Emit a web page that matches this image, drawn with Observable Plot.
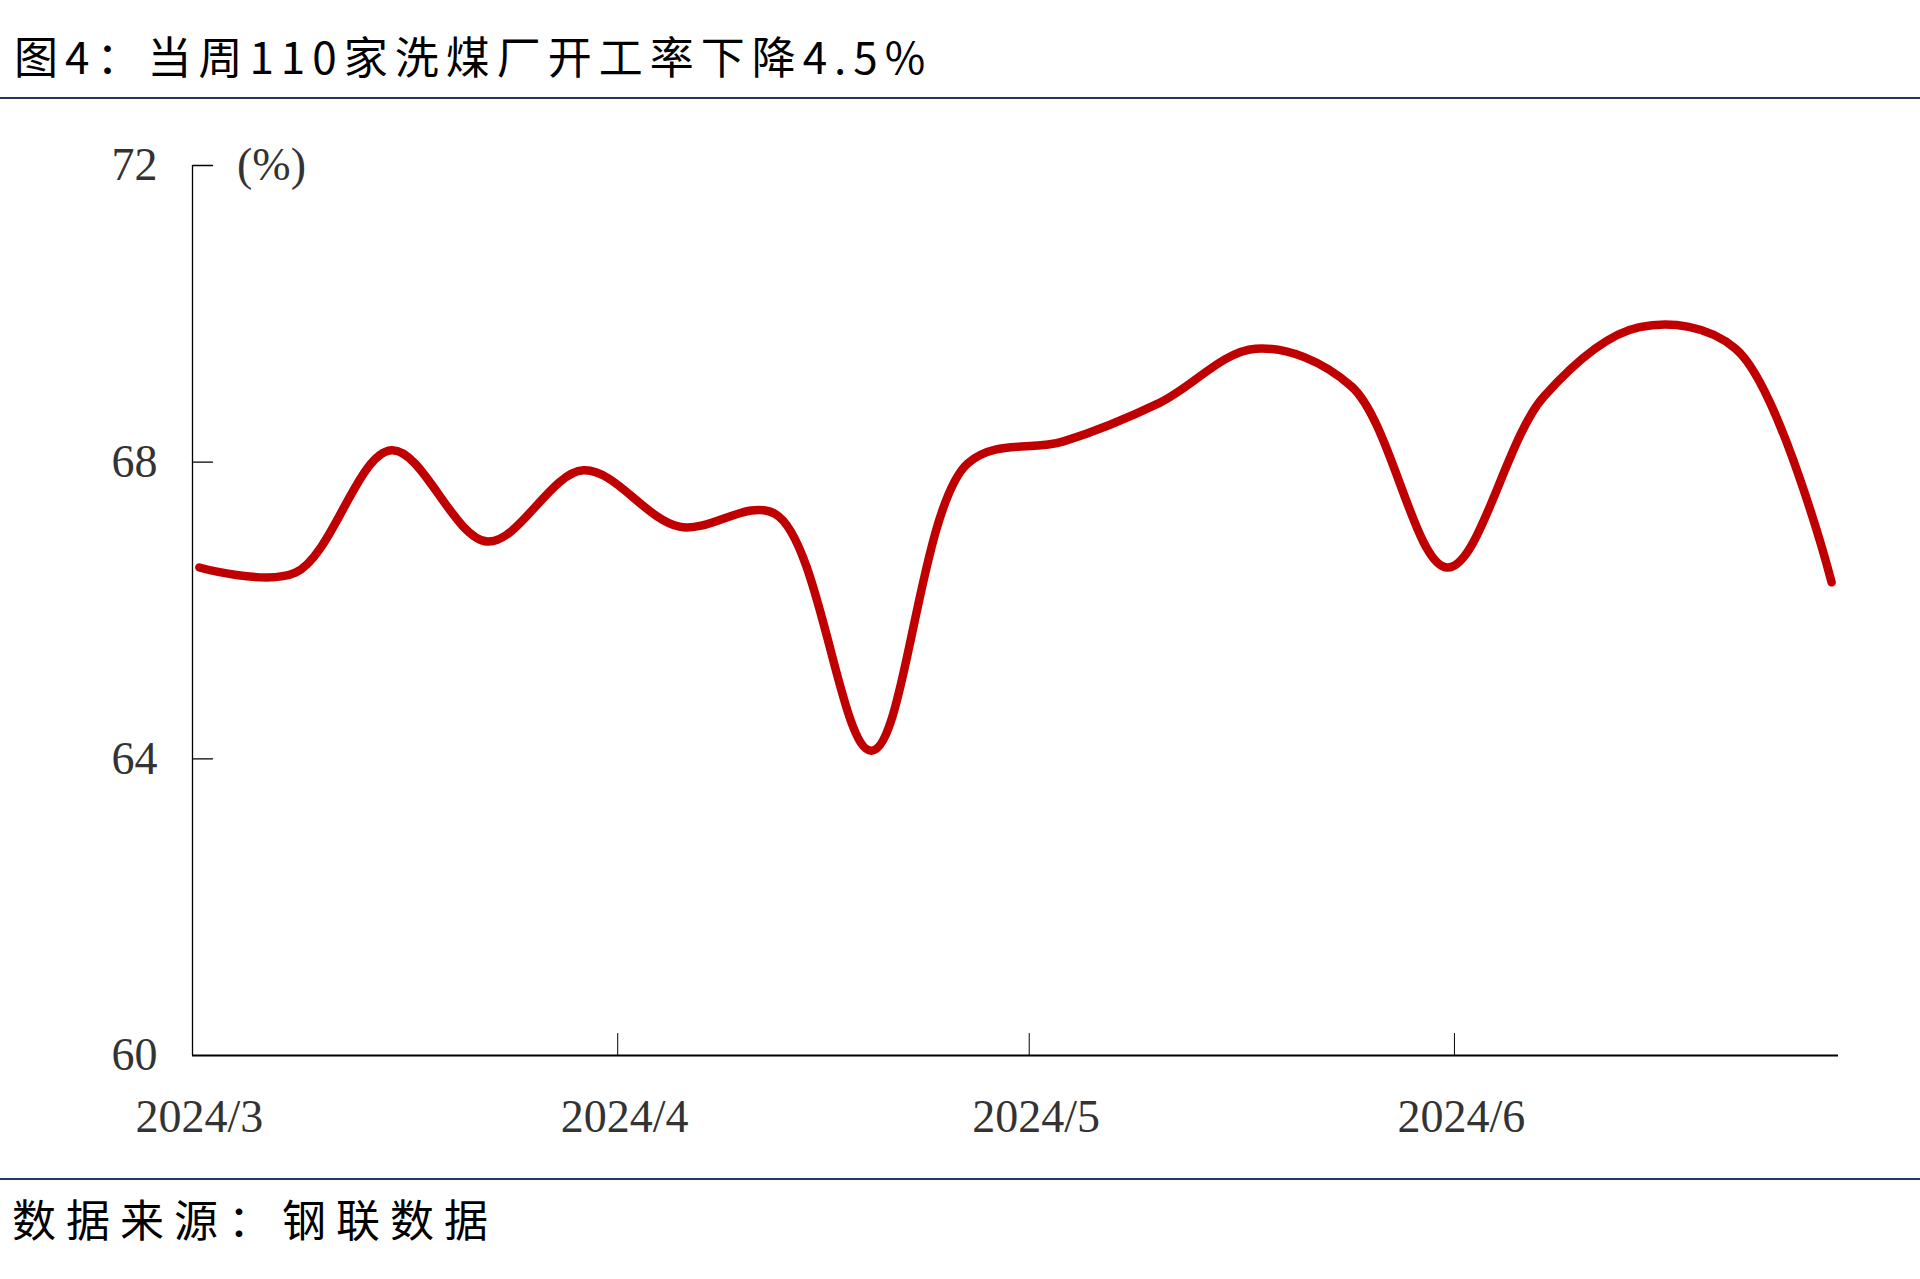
<!DOCTYPE html>
<html><head><meta charset="utf-8">
<script src="https://cdn.jsdelivr.net/npm/d3@7"></script>
<script src="https://cdn.jsdelivr.net/npm/@observablehq/plot@0.6"></script>
<style>
body{margin:0;background:#fff;}
#page{position:relative;width:1920px;height:1279px;overflow:hidden;background:#fff;}
#title{position:absolute;left:14px;top:24px;font-family:"Noto Sans CJK SC";font-size:44px;line-height:62px;letter-spacing:7px;color:#000;white-space:nowrap;}
.rule{position:absolute;left:0;width:1920px;height:2px;background:#1F3864;}
#chart{position:absolute;left:0;top:99px;}
#source{position:absolute;left:12px;top:1188px;font-family:"Noto Sans CJK SC";font-size:44px;line-height:60px;letter-spacing:10px;color:#000;white-space:nowrap;}
</style></head>
<body>
<div id="page">
  <div id="title"></div>
  <div class="rule" style="top:97px"></div>
  <div id="chart"></div>
  <div class="rule" style="top:1178px"></div>
  <div id="source"></div>
</div>
<script>
const titleText = "图4：当周110家洗煤厂开工率下降4.5%";
const sourceText = "数据来源：钢联数据";
const unitLabel = "(%)";
const weekDates = ["2024-03-01","2024-03-08","2024-03-15","2024-03-22","2024-03-29",
  "2024-04-05","2024-04-12","2024-04-19","2024-04-26",
  "2024-05-03","2024-05-10","2024-05-17","2024-05-24","2024-05-31",
  "2024-06-07","2024-06-14","2024-06-21","2024-06-28"];
const rates = [66.58, 66.51, 68.16, 66.93, 67.89,
  67.13, 67.30, 64.11, 67.98,
  68.28, 68.80, 69.53, 69.02, 66.58,
  68.88, 69.82, 69.53, 66.38];
const monthTicks = ["2024-03-01","2024-04-01","2024-05-01","2024-06-01"];
const yTicks = [60, 64, 68, 72];
const xDomain = ["2024-03-01","2024-06-29"];

document.getElementById("title").textContent = titleText;
document.getElementById("source").textContent = sourceText;

// each day is a slot on the time axis; points and labels sit mid-slot
const halfDay = 12 * 3600e3;
const data = weekDates.map((d, i) => ({date: new Date(d), rate: rates[i]}));
const start = new Date(xDomain[0]);
const monthDates = monthTicks.map(d => new Date(d));
const tickLine = {draw(ctx, l) { ctx.moveTo(0, 0); ctx.lineTo(0, -l); }};

const chart = Plot.plot({
  width: 1920, height: 1080,
  marginTop: 66, marginBottom: 124, marginLeft: 192, marginRight: 82,
  x: {type: "utc", domain: xDomain.map(d => new Date(d))},
  y: {domain: [60, 72]},
  style: {fontFamily: '"Liberation Serif", "Times New Roman", serif', background: "#fff", color: "#333"},
  marks: [
    Plot.ruleX([start], {y1: 60, y2: 72, stroke: "#000", strokeWidth: 1.3}),
    Plot.ruleY([60], {stroke: "#000", strokeWidth: 2}),
    Plot.vector(yTicks.slice(1), {x: () => start, y: d => d, length: 20, rotate: 90, anchor: "start", shape: tickLine, stroke: "#000", strokeWidth: 1.3}),
    Plot.vector(monthDates.slice(1), {x: d => d, y: () => 60, length: 22, rotate: 0, anchor: "start", shape: tickLine, stroke: "#000", strokeWidth: 1}),
    Plot.axisY(yTicks, {tickSize: 0, tickPadding: 35, fontSize: 46, label: null, tickFormat: d => String(d)}),
    Plot.axisX(monthDates, {x: d => new Date(+d + halfDay), tickSize: 0, tickPadding: 44, fontSize: 46, label: null,
      text: d => `${d.getUTCFullYear()}/${d.getUTCMonth() + 1}`}),
    Plot.line(data, {x: d => new Date(+d.date + halfDay), y: "rate", stroke: "#C00000", strokeWidth: 8.5, curve: "catmull-rom", strokeLinecap: "round", strokeLinejoin: "round"}),
    Plot.text([unitLabel], {x: () => start, y: () => 72, text: d => d, dx: 79, fontSize: 46})
  ]
});
document.getElementById("chart").appendChild(chart);
</script>
</body></html>
